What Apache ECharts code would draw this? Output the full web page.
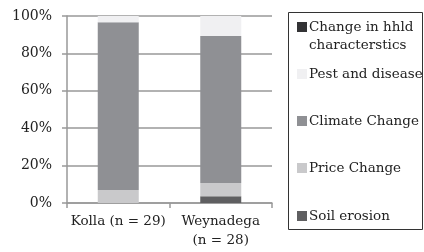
<!DOCTYPE html>
<html>
<head>
<meta charset="utf-8">
<script src="https://cdn.jsdelivr.net/npm/echarts@6/dist/echarts.min.js"></script>
<style>
  html, body { margin: 0; padding: 0; background: #fff; }
  #chart { width: 424px; height: 252px; }
</style>
</head>
<body>
<div id="chart"></div>
<script>
// data (shares in %)
var categories = ["Kolla (n = 29)", "Weynadega\n(n = 28)"];
var soilErosion = [0, 3.6];
var priceChange = [6.9, 7.1];
var climateChange = [89.7, 78.6];
var pestDisease = [3.4, 10.7];
var hhldChange = [0, 0];
var yTicks = [0, 20, 40, 60, 80, 100];

var font = "DejaVu Serif";
var chart = echarts.init(document.getElementById("chart"));

function bar(name, data, color) {
  return {
    name: name,
    type: "bar",
    stack: "total",
    barWidth: "40%",
    data: data,
    itemStyle: { color: color },
    animation: false
  };
}

// one legend per entry so the uneven spacing can be kept
function legendAt(name, top) {
  return {
    data: [name],
    left: 297,
    top: top,
    padding: 0,
    orient: "vertical",
    itemWidth: 10,
    itemHeight: 10,
    icon: "rect",
    selectedMode: false,
    textStyle: { fontFamily: font, fontSize: 13.5, color: "#222", padding: [0, 0, 0, -3] }
  };
}

chart.setOption({
  animation: false,
  grid: { left: 67, right: 152, top: 16, bottom: 49 },
  xAxis: {
    type: "category",
    data: categories,
    axisLine: { lineStyle: { color: "#999", width: 1.5 } },
    axisTick: { show: true, length: 5, lineStyle: { color: "#999", width: 1.5 } },
    axisLabel: { interval: 0, fontFamily: font, fontSize: 13.5, color: "#222", margin: 9, lineHeight: 19 }
  },
  yAxis: {
    type: "value",
    min: yTicks[0],
    max: yTicks[yTicks.length - 1],
    interval: 20,
    axisLine: { show: true, lineStyle: { color: "#999", width: 1.5 } },
    axisTick: { show: true, length: 5, lineStyle: { color: "#999", width: 1.5 } },
    splitLine: { lineStyle: { color: "#999", width: 1.5 } },
    axisLabel: { fontFamily: font, fontSize: 14, color: "#222", margin: 15, formatter: "{value}%" }
  },
  legend: [
    legendAt("Change in hhld", 20),
    legendAt("Pest and disease", 67),
    legendAt("Climate Change", 114),
    legendAt("Price Change", 161),
    legendAt("Soil erosion", 209)
  ],
  graphic: [
    {
      type: "rect",
      shape: { x: 288.5, y: 12.5, width: 134, height: 217 },
      style: { fill: null, stroke: "#333", lineWidth: 1 }
    },
    {
      type: "text",
      left: 309,
      top: 38,
      style: { text: "characterstics", font: "13.5px " + font, fill: "#222" }
    }
  ],
  series: [
    bar("Soil erosion", soilErosion, "#5f5f61"),
    bar("Price Change", priceChange, "#c9c9cb"),
    bar("Climate Change", climateChange, "#8f9094"),
    bar("Pest and disease", pestDisease, "#f0f0f2"),
    bar("Change in hhld", hhldChange, "#333335")
  ]
});
</script>
</body>
</html>
